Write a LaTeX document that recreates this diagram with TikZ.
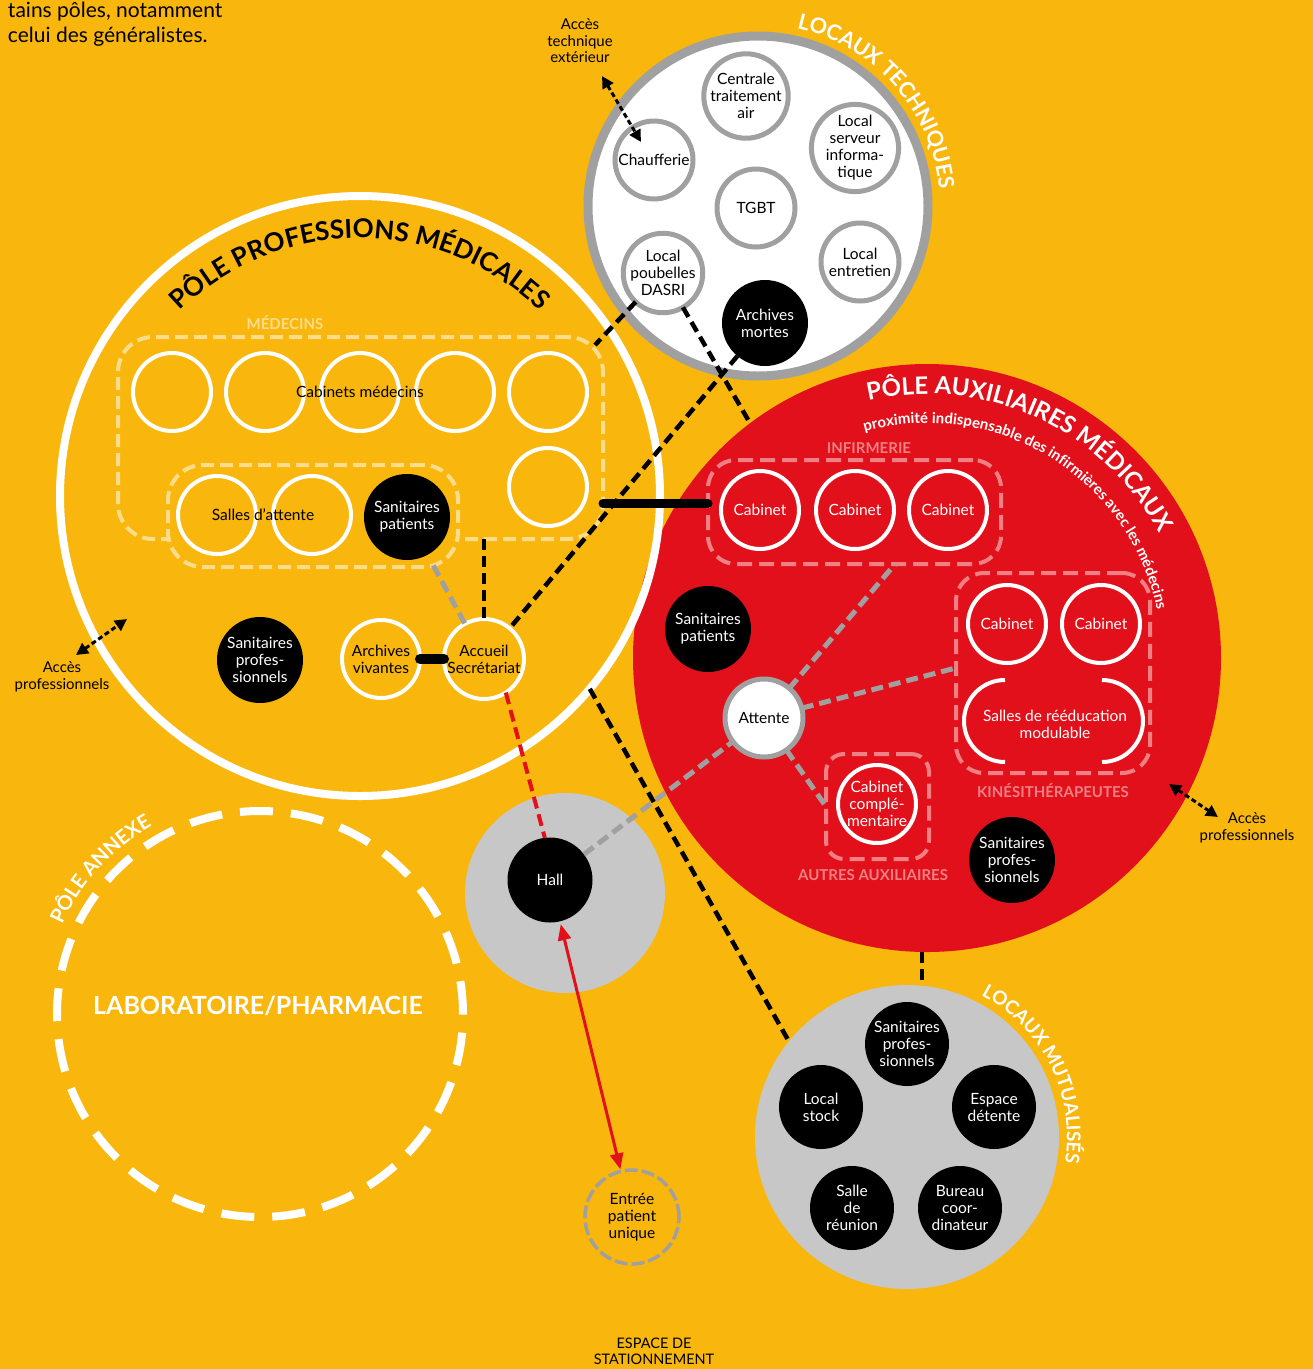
\documentclass[tikz,border=0pt]{standalone}
\usepackage{fontspec}
\setmainfont{Lato}
\usetikzlibrary{decorations.text,arrows.meta}
\definecolor{bg}{RGB}{249,182,12}
\definecolor{rouge}{RGB}{226,16,26}
\definecolor{ring}{RGB}{160,160,160}
\definecolor{lgray}{RGB}{199,199,199}
\definecolor{pale}{RGB}{253,221,140}
\definecolor{pink}{RGB}{240,128,132}
\newcommand\lbl{\fontsize{15.5}{17}\selectfont}
\newcommand\lblb{\fontsize{15}{17}\selectfont\bfseries}
\tikzset{
  every node/.style={inner sep=0pt, outer sep=0pt, align=center, font=\lbl},
  techc/.style={circle, draw=ring, line width=5pt, fill=white, minimum size=78pt},
  blackc/.style={circle, fill=black, text=white, minimum size=86pt},
  whitec/.style={circle, draw=white, line width=4pt, minimum size=78pt},
  palebox/.style={draw=pale, line width=4pt, rounded corners=35pt, dash pattern=on 13pt off 6pt},
  pinkbox/.style={draw=pink, line width=4pt, rounded corners=28pt, dash pattern=on 15pt off 7pt},
  blk/.style={draw=black, line width=4.5pt, dash pattern=on 11pt off 6pt},
  gry/.style={draw=ring, line width=5pt, dash pattern=on 12pt off 6pt},
  reddash/.style={draw=rouge, line width=4pt, dash pattern=on 12pt off 6pt},
  solidlink/.style={draw=black, line cap=round},
  acc/.style={draw=black, line width=3pt, dash pattern=on 5pt off 3pt,
    arrows={Triangle[length=12pt,width=12pt]-Triangle[length=12pt,width=12pt]}},
  redarr/.style={draw=rouge, line width=3pt,
    arrows={Triangle[length=16pt,width=13pt]-Triangle[length=16pt,width=13pt]}},
  paletext/.style={text=pale, font=\lblb},
  pinktext/.style={text=pink, font=\lblb},
}
\begin{document}
\begin{tikzpicture}[x=1pt,y=-1pt]
\fill[bg] (0,0) rectangle (1313,1369);
\useasboundingbox (0,0) rectangle (1313,1369);

% big zones
\node[circle, fill=rouge, minimum size=588pt] (rp) at (927,658) {};
\node[circle, draw=white, line width=8pt, minimum size=600pt] (pp) at (360,496) {};
\node[circle, draw=ring, fill=white, line width=9pt, minimum size=340pt] (lt) at (758,206) {};
\node[circle, fill=lgray, minimum size=200pt] (hallz) at (565,893) {};
\node[circle, fill=lgray, minimum size=304pt] (mut) at (907,1137) {};
\node[circle, draw=white, line width=8pt, dash pattern=on 33pt off 18pt, minimum size=406pt] (annexe) at (260,1014) {};

% titles along arcs
\path[decorate, decoration={text along path, text align=center,
  text={|\fontsize{26}{26}\selectfont\bfseries|PÔLE PROFESSIONS MÉDICALES}}]
  (pp.center) ++(170:258pt) arc[start angle=170, end angle=10, radius=258pt];
\path[decorate, decoration={text along path, text align=center,
  text={|\fontsize{21.5}{21.5}\selectfont\bfseries\color{white}|LOCAUX TECHNIQUES}}]
  (lt.center) ++(110:182pt) arc[start angle=110, end angle=-27, radius=182pt];
\path[decorate, decoration={text along path, text align=center,
  text={|\fontsize{24}{24}\selectfont\bfseries\color{white}|PÔLE AUXILIAIRES MÉDICAUX}}]
  (rp.center) ++(140:264pt) arc[start angle=140, end angle=-9, radius=264pt];
\path[decorate, decoration={text along path, text align=center,
  text={|\fontsize{15}{15}\selectfont\bfseries\color{white}|proximité indispensable des infirmières avec les médecins}}]
  (rp.center) ++(133.6:235pt) arc[start angle=133.6, end angle=-16.4, radius=235pt];
\path[decorate, decoration={text along path, text align=center,
  text={|\fontsize{19}{19}\selectfont\bfseries\color{white}|LOCAUX MUTUALISÉS}}]
  (mut.center) ++(96.5:160pt) arc[start angle=96.5, end angle=-43.5, radius=160pt];
\path[decorate, decoration={text along path, text align=center,
  text={|\fontsize{20}{20}\selectfont\bfseries\color{white}|PÔLE ANNEXE}}]
  (annexe.center) ++(187.75:217pt) arc[start angle=187.75, end angle=87.75, radius=217pt];

% boxes
\node[palebox, minimum width=485pt, minimum height=202pt] (medbox) at (360.5,438) {};
\node[palebox, fill=bg, minimum width=290pt, minimum height=102pt] (salbox) at (313,516) {};
\node[pinkbox, minimum width=293pt, minimum height=104pt] (infbox) at (854.5,512) {};
\node[pinkbox, minimum width=194pt, minimum height=200pt] (kinebox) at (1053,673) {};
\node[pinkbox, rounded corners=18pt, minimum width=103pt, minimum height=105pt] (autbox) at (877.5,806.5) {};

% locaux techniques
\node[techc] (cta) at (746,96) {Centrale\\traitement\\air};
\node[techc] (chauf) at (654,160) {Chaufferie};
\node[techc] (serv) at (855,148) {Local\\serveur\\informa-\\tique};
\node[techc] (tgbt) at (756,208) {TGBT};
\node[techc] (dasri) at (663,273) {Local\\poubelles\\DASRI};
\node[techc] (entr) at (860,262) {Local\\entretien};
\node[blackc] (archm) at (765,323) {Archives\\mortes};

% pôle professions médicales
\node[paletext] (medlbl) at (285,323) {MÉDECINS};
\node[whitec] (cab1) at (172,392) {};
\node[whitec] (cab2) at (265,392) {};
\node[whitec] (cab3) at (360,392) {};
\node[whitec] (cab4) at (455,392) {};
\node[whitec] (cab5) at (548,392) {};
\node[whitec] (cab6) at (548,487) {};
\node (cablbl) at (360,392) {Cabinets médecins};
\node[whitec] (sal1) at (217,515) {};
\node[whitec] (sal2) at (312,515) {};
\node (sallbl) at (263,515) {Salles d’attente};
\node[blackc] (sanpat) at (407,517) {Sanitaires\\patients};
\node[blackc] (sanpro) at (260,660) {Sanitaires\\profes-\\sionnels};
\node[whitec] (archv) at (381,659) {Archives\\vivantes};
\node[whitec, minimum size=80pt] (accueil) at (484,659) {Accueil\\Secrétariat};

% pôle auxiliaires médicaux
\node[pinktext] (inflbl) at (869,448) {INFIRMERIE};
\node[whitec, text=white] (inf1) at (760,510) {Cabinet};
\node[whitec, text=white] (inf2) at (855,510) {Cabinet};
\node[whitec, text=white] (inf3) at (948,510) {Cabinet};
\node[whitec, text=white] (kin1) at (1007,624) {Cabinet};
\node[whitec, text=white] (kin2) at (1101,624) {Cabinet};
\draw[white, line width=4pt] (1005,680) arc[start angle=90, end angle=270, radius=41pt];
\draw[white, line width=4pt] (1102,680) arc[start angle=90, end angle=-90, radius=41pt];
\node[text=white] (srm) at (1055,724) {Salles de rééducation\\modulable};
\node[pinktext] (kinlbl) at (1053,791) {KINÉSITHÉRAPEUTES};
\node[whitec, text=white] (cabc) at (877,804) {Cabinet\\complé-\\mentaire};
\node[pinktext] (autlbl) at (873,875) {AUTRES AUXILIAIRES};
\node[blackc] (sanpatr) at (708,629) {Sanitaires\\patients};
\node[circle, draw=ring, line width=5pt, fill=white, minimum size=78pt] (attente) at (764,718) {Attente};
\node[blackc] (sanpror) at (1012,860) {Sanitaires\\profes-\\sionnels};

% hall & entrée
\node[blackc, minimum size=85pt] (hall) at (550,880) {Hall};
\node[circle, draw=ring, line width=3.5pt, dash pattern=on 13pt off 4pt, minimum size=94pt] (entree) at (632,1217) {Entrée\\patient\\unique};

% locaux mutualisés
\node[blackc, minimum size=84pt] (msan) at (907,1044) {Sanitaires\\profes-\\sionnels};
\node[blackc, minimum size=84pt] (mstock) at (821,1107) {Local\\stock};
\node[blackc, minimum size=84pt] (mdet) at (994,1107) {Espace\\détente};
\node[blackc, minimum size=84pt] (mreu) at (852,1208) {Salle\\de\\réunion};
\node[blackc, minimum size=84pt] (mbur) at (960,1208) {Bureau\\coor-\\dinateur};

% pôle annexe
\node[text=white, font=\fontsize{25}{25}\selectfont\bfseries] (labo) at (258,1006) {LABORATOIRE/PHARMACIE};

% free texts
\node[anchor=base west, font=\fontsize{21}{25}\selectfont] (intro1) at (8,17) {tains pôles, notamment};
\node[anchor=base west, font=\fontsize{21}{25}\selectfont] (intro2) at (8,42) {celui des généralistes.};
\node[font=\fontsize{15}{16.5}\selectfont] (acct) at (580,41) {Accès\\technique\\extérieur};
\node[font=\fontsize{15}{16.5}\selectfont] (accl) at (62,677) {Accès\\professionnels};
\node[font=\fontsize{15}{16.5}\selectfont] (accr) at (1247,828) {Accès\\professionnels};
\node[font=\fontsize{14.5}{16}\selectfont] (park) at (654,1351) {ESPACE DE\\STATIONNEMENT};

% access arrow ends
\coordinate (at1) at (602,76);
\coordinate (at2) at (641,142);
\coordinate (al1) at (76,655);
\coordinate (al2) at (127,619);
\coordinate (ar1) at (1169,784);
\coordinate (ar2) at (1218,817);
\coordinate (medcorner) at (595,345);

% connectors
\draw[blk] (dasri) -- (medcorner);
\draw[blk] (dasri) -- (rp.127);
\draw[blk] (archm) -- (accueil);
\draw[blk] (medbox.south -| accueil) -- (accueil);
\draw[blk] (pp.-40) -- (mut.141);
\draw[blk] (rp.-91) -- (rp.-91 |- mut.north);
\draw[gry, shorten <=12pt] (sanpat) -- (accueil);
\draw[reddash] (accueil.-57) -- (hall.97);
\draw[gry] (attente) -- (infbox.-52);
\draw[gry] (attente) -- (kinebox.177);
\draw[gry] (attente) -- (autbox.west);
\draw[gry] (hall) -- (attente);
\draw[solidlink, line width=9pt] (medbox.east |- inf1.170) -- (infbox.west |- inf1.170);
\draw[solidlink, line width=10pt] (archv) -- (accueil);
\draw[redarr, shorten <=3pt, shorten >=2pt] (hall) -- (entree);
\draw[acc] (at1) -- (at2);
\draw[acc] (al1) -- (al2);
\draw[acc] (ar1) -- (ar2);
\end{tikzpicture}
\end{document}
